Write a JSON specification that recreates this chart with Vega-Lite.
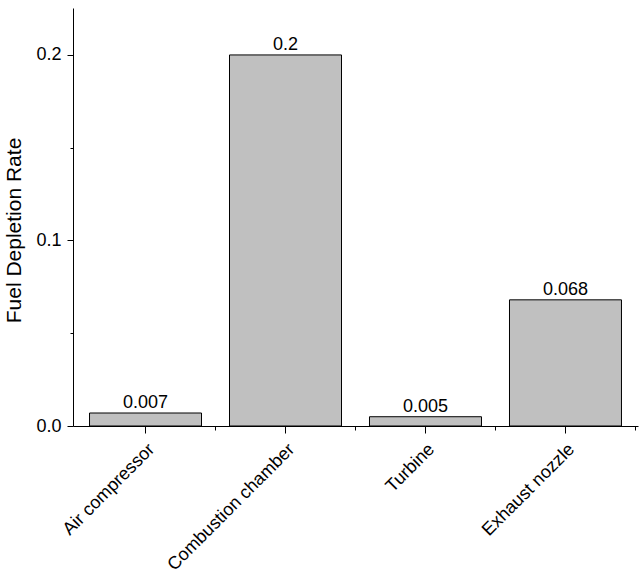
{
  "$schema": "https://vega.github.io/schema/vega-lite/v6.json",
  "description": "Fuel depletion rate by engine component",
  "autosize": "none",
  "padding": {"left": 73, "top": 8, "right": 2, "bottom": 156},
  "width": 565,
  "height": 418,
  "background": "white",
  "config": {
    "view": {"stroke": null},
    "font": "Liberation Sans",
    "axis": {
      "domainColor": "black",
      "tickColor": "black",
      "labelColor": "black",
      "titleColor": "black",
      "grid": false,
      "labelFontSize": 18,
      "titleFontSize": 21,
      "titleFontWeight": "normal"
    }
  },
  "data": {
    "values": [
      {"component": "Air compressor", "rate": 0.007, "label": "0.007"},
      {"component": "Combustion chamber", "rate": 0.2, "label": "0.2"},
      {"component": "Turbine", "rate": 0.005, "label": "0.005"},
      {"component": "Exhaust nozzle", "rate": 0.068, "label": "0.068"}
    ]
  },
  "encoding": {
    "y": {
      "field": "rate",
      "type": "quantitative",
      "scale": {"domain": [0, 0.2253], "nice": false, "zero": true},
      "axis": {
        "title": "Fuel Depletion Rate",
        "values": [0, 0.05, 0.1, 0.15, 0.2],
        "labelExpr": "round(datum.value * 100) % 10 == 0 ? format(datum.value, '.1f') : ''",
        "tickSize": {"condition": {"test": "round(datum.value * 100) % 10 != 0", "value": 3}, "value": 6},
        "labelPadding": 6,
        "titlePadding": 11,
        "titleY": 222
      }
    }
  },
  "layer": [
    {
      "mark": {"type": "bar", "fill": "#c0c0c0", "stroke": "black", "strokeWidth": 1},
      "encoding": {
        "x": {
          "field": "component",
          "type": "nominal",
          "sort": null,
          "scale": {"paddingInner": 0.2, "paddingOuter": 0.118},
          "axis": {
            "title": null,
            "labelAngle": -45,
            "tickSize": 7,
            "labelPadding": 7,
            "orient": "bottom"
          }
        }
      }
    },
    {
      "mark": {"type": "text", "baseline": "bottom", "dy": -1, "fontSize": 18, "color": "black"},
      "encoding": {
        "x": {
          "field": "component",
          "type": "nominal",
          "sort": null,
          "axis": {
            "title": null,
            "orient": "bottom",
            "labels": false,
            "domain": false,
            "tickSize": 4,
            "bandPosition": 1.125
          }
        },
        "text": {"field": "label"}
      }
    }
  ],
  "resolve": {"axis": {"x": "independent"}}
}
